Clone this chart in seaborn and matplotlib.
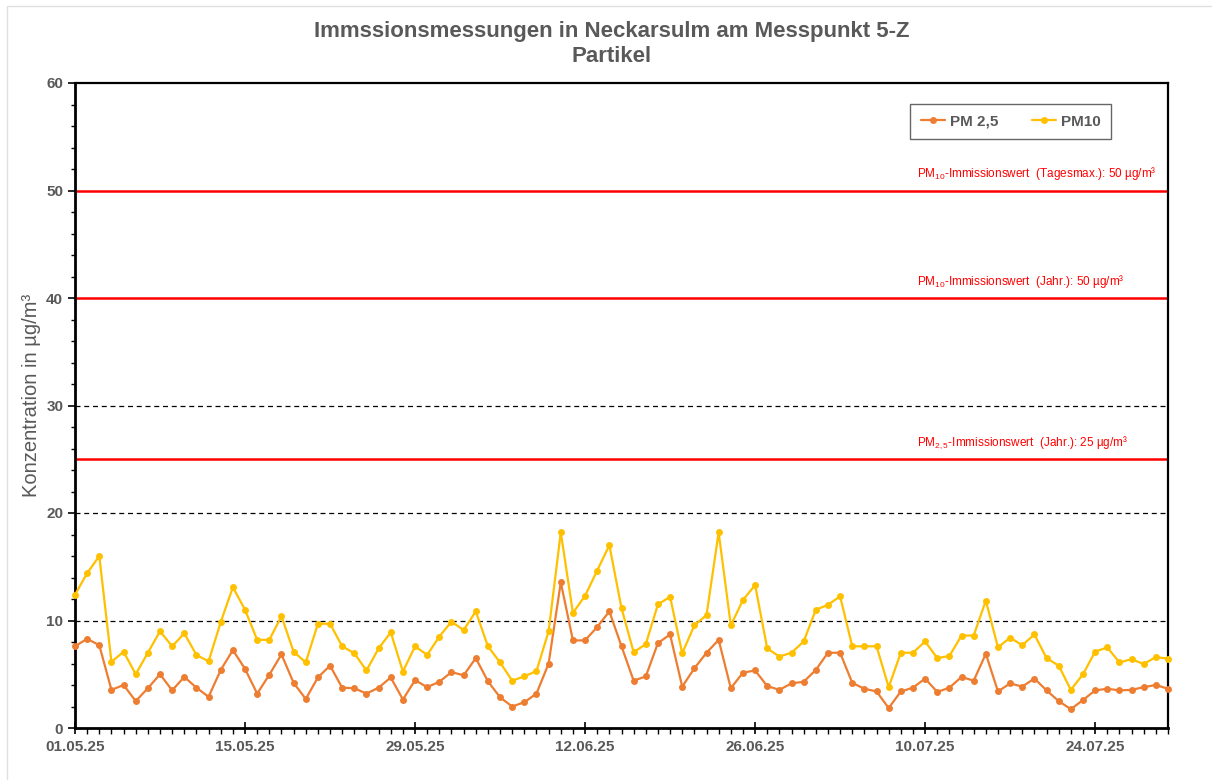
import pandas as pd
import matplotlib
matplotlib.use("Agg")
import matplotlib.pyplot as plt
import matplotlib.dates as mdates
from matplotlib.patches import Rectangle
from matplotlib.ticker import MultipleLocator
import seaborn as sns

# Tageswerte 01.05.25 - 30.07.25 (µg/m³)
start_date = "2025-05-01"
pm25 = [7.6, 8.3, 7.7, 3.55, 4.0, 2.5, 3.7, 5.0, 3.5, 4.75,
        3.75, 2.9, 5.4, 7.25, 5.5, 3.2, 4.95, 6.85, 4.2, 2.7,
        4.7, 5.8, 3.75, 3.7, 3.2, 3.75, 4.7, 2.65, 4.45, 3.8,
        4.3, 5.2, 4.9, 6.5, 4.35, 2.85, 2.0, 2.4, 3.2, 6.0,
        13.55, 8.15, 8.15, 9.4, 10.85, 7.6, 4.4, 4.8, 7.9, 8.7,
        3.85, 5.55, 7.0, 8.2, 3.7, 5.15, 5.35, 3.9, 3.55, 4.15,
        4.3, 5.4, 7.0, 7.0, 4.2, 3.65, 3.4, 1.85, 3.4, 3.75,
        4.6, 3.35, 3.75, 4.75, 4.4, 6.9, 3.4, 4.15, 3.85, 4.6,
        3.5, 2.5, 1.75, 2.6, 3.5, 3.65, 3.5, 3.55, 3.8, 4.0, 3.65]
pm10 = [12.4, 14.4, 16.0, 6.15, 7.1, 5.0, 7.0, 9.0, 7.6, 8.8,
        6.8, 6.2, 9.85, 13.1, 11.0, 8.2, 8.2, 10.4, 7.1, 6.1,
        9.7, 9.7, 7.6, 6.95, 5.35, 7.4, 8.9, 5.25, 7.6, 6.8,
        8.5, 9.9, 9.1, 10.85, 7.6, 6.1, 4.4, 4.8, 5.3, 9.0,
        18.2, 10.7, 12.3, 14.65, 17.0, 11.15, 7.05, 7.8, 11.5, 12.2,
        6.95, 9.55, 10.5, 18.2, 9.55, 11.9, 13.3, 7.4, 6.65, 7.0,
        8.05, 11.0, 11.45, 12.25, 7.6, 7.6, 7.6, 3.8, 7.0, 7.0,
        8.05, 6.5, 6.7, 8.6, 8.6, 11.85, 7.5, 8.4, 7.7, 8.7,
        6.5, 5.8, 3.55, 5.0, 7.1, 7.5, 6.1, 6.4, 5.95, 6.6, 6.45]
series_names = ["PM 2,5", "PM10"]
series_colors = ["#ED7D31", "#FFC000"]

limit_values = [50, 40, 25]
limit_labels = [
    "PM$_{10}$-Immissionswert  (Tagesmax.): 50 µg/m³",
    "PM$_{10}$-Immissionswert  (Jahr.): 50 µg/m³",
    "PM$_{2,5}$-Immissionswert  (Jahr.): 25 µg/m³",
]

sns.set_theme(style="white")
plt.rcParams["font.family"] = ["Liberation Sans", "DejaVu Sans"]
plt.rcParams["mathtext.fontset"] = "custom"
plt.rcParams["mathtext.rm"] = "Liberation Sans"
plt.rcParams["mathtext.it"] = "Liberation Sans"
plt.rcParams["mathtext.bf"] = "Liberation Sans:bold"

grey = "#595959"

dates = pd.date_range(start_date, periods=len(pm25), freq="D")
df = pd.DataFrame({"Datum": dates, series_names[0]: pm25, series_names[1]: pm10})
df_long = df.melt(id_vars="Datum", var_name="Messgröße", value_name="Wert")

fig = plt.figure(figsize=(12.12, 7.8), dpi=100)
ax = fig.add_axes([75 / 1212, 1 - 728 / 780, (1168 - 75) / 1212, (728 - 83) / 780])

# Excel-Diagrammrahmen
fig.patches.append(Rectangle((7 / 1212, -0.02), 1.1, 1 - 6 / 780 + 0.02,
                             transform=fig.transFigure, fill=False,
                             edgecolor="#e0e0e0", linewidth=1))

# Hilfslinien
for yv in [10, 20, 30]:
    ax.axhline(yv, color="black", linestyle=(0, (4, 3)), linewidth=0.9, zorder=1)

# Grenzwerte
for yv, lab in zip(limit_values, limit_labels):
    ax.axhline(yv, color="#FF0000", linewidth=1.8, zorder=2)
    ax.annotate(lab, xy=(0.770, yv), xycoords=("axes fraction", "data"),
                xytext=(0, 6), textcoords="offset points",
                ha="left", va="bottom", color="#FF0000", fontsize=8.5)

sns.lineplot(data=df_long, x="Datum", y="Wert", hue="Messgröße",
             hue_order=series_names, palette=series_colors,
             marker="o", markersize=5, markeredgewidth=0, linewidth=1.6,
             ax=ax, clip_on=False, zorder=3)

ax.set_xlim(dates[0], dates[-1])
ax.set_ylim(0, 60)

major_days = pd.date_range(start_date, dates[-1], freq="14D")
ax.set_xticks(major_days)
ax.xaxis.set_major_formatter(mdates.DateFormatter("%d.%m.%y"))
ax.set_xticks(dates, minor=True)
ax.yaxis.set_major_locator(MultipleLocator(10))
ax.yaxis.set_minor_locator(MultipleLocator(2))

ax.tick_params(axis="x", which="major", direction="inout", length=9, width=1.2,
               color="black", labelsize=11, labelcolor=grey, pad=4, bottom=True)
ax.tick_params(axis="x", which="minor", direction="out", length=4, width=1,
               color="black", bottom=True)
ax.tick_params(axis="y", which="major", direction="out", length=5, width=1.2,
               color="black", labelsize=11, labelcolor=grey, left=True)
ax.tick_params(axis="y", which="minor", direction="out", length=3, width=1,
               color="black", left=True)
for lab in ax.get_xticklabels() + ax.get_yticklabels():
    lab.set_fontweight("bold")

for side in ["left", "bottom"]:
    ax.spines[side].set_linewidth(2)
    ax.spines[side].set_color("black")
for side in ["top", "right"]:
    ax.spines[side].set_linewidth(1.6)
    ax.spines[side].set_color("black")

ax.set_xlabel("")
ax.set_ylabel("Konzentration in µg/m³", color=grey, fontsize=14.5,
              fontweight="normal")
ax.yaxis.set_label_coords(-0.031, 0.515)

leg = ax.legend(loc="center", bbox_to_anchor=(0.856, 0.94), ncol=2,
                frameon=True, fancybox=False, edgecolor="#404040",
                handlelength=1.6, columnspacing=2.2, handletextpad=0.3,
                borderpad=0.7, fontsize=11, title=None)
leg.get_frame().set_linewidth(1.0)
leg.get_frame().set_boxstyle("square", pad=0)
for t in leg.get_texts():
    t.set_color(grey)
    t.set_fontweight("bold")
for h in leg.legend_handles:
    h.set_markersize(5)

fig.suptitle("Immssionsmessungen in Neckarsulm am Messpunkt 5-Z\nPartikel",
             x=612 / 1212, y=0.973, fontsize=16, fontweight="bold",
             color=grey, linespacing=1.25)

fig.savefig("out.png", dpi=100, facecolor="white")
